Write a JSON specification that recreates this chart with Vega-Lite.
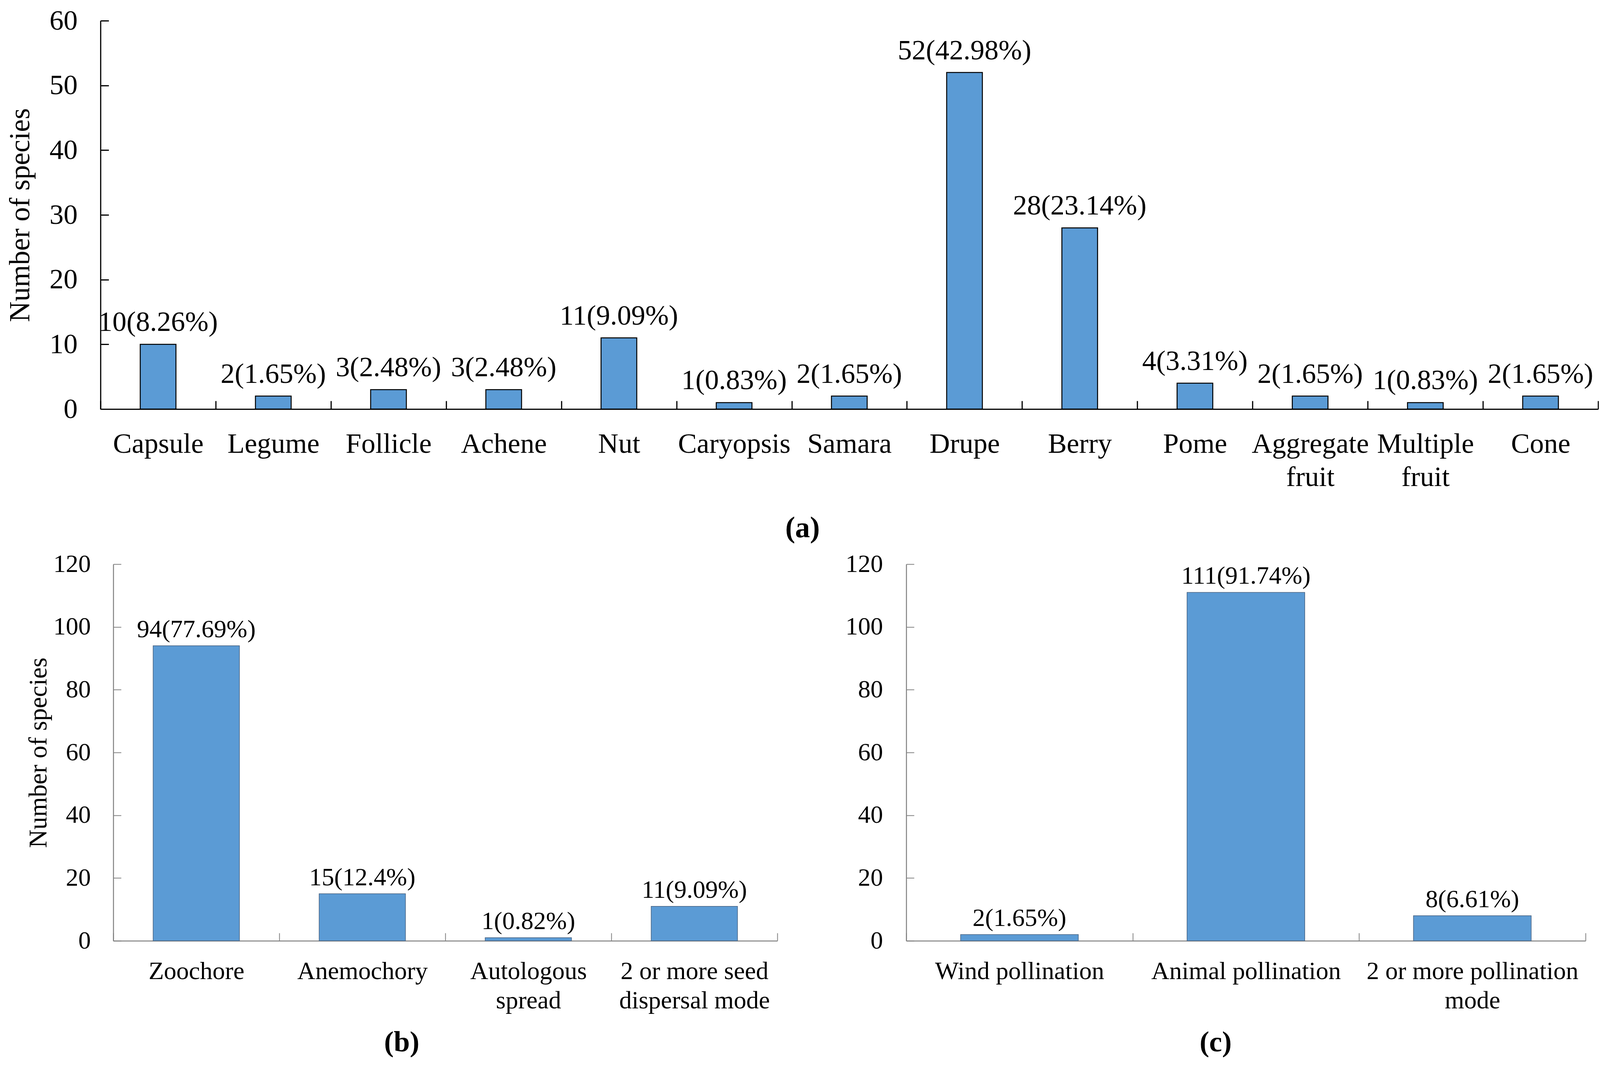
{
  "$schema": "https://vega.github.io/schema/vega-lite/v6.json",
  "background": "white",
  "padding": {"left": 16, "top": 17, "right": 0, "bottom": 0},
  "config": {
    "font": "Liberation Serif",
    "view": {"stroke": null},
    "axis": {"labelColor": "#000", "titleColor": "#000", "titleFontWeight": "normal", "grid": false, "labelOverlap": false, "labelFlush": false, "labelLimit": 0, "labelBound": false},
    "title": {"color": "#000", "fontWeight": "bold", "anchor": "middle", "frame": "bounds", "orient": "bottom", "font": "Liberation Serif"},
    "text": {"color": "#000", "font": "Liberation Serif"}
  },
  "datasets": {
    "fruit": [
      {"type": "Capsule", "n": 10, "label": "10(8.26%)"},
      {"type": "Legume", "n": 2, "label": "2(1.65%)"},
      {"type": "Follicle", "n": 3, "label": "3(2.48%)"},
      {"type": "Achene", "n": 3, "label": "3(2.48%)"},
      {"type": "Nut", "n": 11, "label": "11(9.09%)"},
      {"type": "Caryopsis", "n": 1, "label": "1(0.83%)"},
      {"type": "Samara", "n": 2, "label": "2(1.65%)"},
      {"type": "Drupe", "n": 52, "label": "52(42.98%)"},
      {"type": "Berry", "n": 28, "label": "28(23.14%)"},
      {"type": "Pome", "n": 4, "label": "4(3.31%)"},
      {"type": "Aggregate fruit", "n": 2, "label": "2(1.65%)"},
      {"type": "Multiple fruit", "n": 1, "label": "1(0.83%)"},
      {"type": "Cone", "n": 2, "label": "2(1.65%)"}
    ],
    "dispersal": [
      {"type": "Zoochore", "n": 94, "label": "94(77.69%)"},
      {"type": "Anemochory", "n": 15, "label": "15(12.4%)"},
      {"type": "Autologous spread", "n": 1, "label": "1(0.82%)"},
      {"type": "2 or more seed dispersal mode", "n": 11, "label": "11(9.09%)"}
    ],
    "pollination": [
      {"type": "Wind pollination", "n": 2, "label": "2(1.65%)"},
      {"type": "Animal pollination", "n": 111, "label": "111(91.74%)"},
      {"type": "2 or more pollination mode", "n": 8, "label": "8(6.61%)"}
    ]
  },
  "center": true,
  "spacing": 22,
  "vconcat": [
    {
      "width": 3834,
      "height": 994,
      "data": {"name": "fruit"},
      "title": {"text": "(a)", "fontSize": 76, "offset": 58},
      "encoding": {
        "x": {"field": "type", "type": "nominal", "sort": null,
          "scale": {"paddingInner": 0, "paddingOuter": 0},
          "axis": {"title": null, "labelAngle": 0, "tickBand": "extent", "tickSize": -21, "tickWidth": 3, "tickColor": "#000", "domainColor": "#000", "domainWidth": 3, "labelFontSize": 72, "labelLineHeight": 85, "labelPadding": 75, "labelExpr": "split(datum.label, ' ')"}},
        "y": {"field": "n", "type": "quantitative",
          "scale": {"domain": [0, 60]},
          "axis": {"title": "Number of species", "titleFontSize": 73, "titlePadding": 37, "values": [0, 10, 20, 30, 40, 50, 60], "tickSize": -21, "tickWidth": 3, "tickColor": "#000", "domainColor": "#000", "domainWidth": 3, "labelFontSize": 72, "labelPadding": 80}}
      },
      "layer": [
        {"mark": {"type": "bar", "width": {"band": 0.31}, "fill": "#5B9BD5", "stroke": "#000", "strokeWidth": 2.5}},
        {"mark": {"type": "text", "baseline": "alphabetic", "dy": -34, "fontSize": 72}, "encoding": {"text": {"field": "label"}}}
      ]
    },
    {
      "spacing": 173,
      "hconcat": [
        {
          "width": 1700,
          "height": 964,
          "data": {"name": "dispersal"},
          "title": {"text": "(b)", "fontSize": 74, "offset": 40},
          "encoding": {
            "x": {"field": "type", "type": "nominal", "sort": null,
              "scale": {"paddingInner": 0, "paddingOuter": 0},
              "axis": {"title": null, "labelAngle": 0, "tickBand": "extent", "tickSize": -20, "tickWidth": 2, "tickColor": "#808080", "domainColor": "#808080", "domainWidth": 2.5, "labelFontSize": 64, "labelLineHeight": 75, "labelPadding": 66, "labelExpr": "datum.label == '2 or more seed dispersal mode' ? ['2 or more seed', 'dispersal mode'] : split(datum.label, ' ')"}},
            "y": {"field": "n", "type": "quantitative",
              "scale": {"domain": [0, 120]},
              "axis": {"title": "Number of species", "titleFontSize": 65, "titlePadding": 4, "values": [0, 20, 40, 60, 80, 100, 120], "tickSize": -20, "tickWidth": 2, "tickColor": "#808080", "domainColor": "#808080", "domainWidth": 2.5, "labelFontSize": 64, "labelPadding": 78}}
          },
          "layer": [
            {"mark": {"type": "bar", "width": {"band": 0.52}, "fill": "#5B9BD5", "stroke": "#4a6380", "strokeWidth": 1.5}},
            {"mark": {"type": "text", "baseline": "alphabetic", "dy": -22, "fontSize": 64}, "encoding": {"text": {"field": "label"}}}
          ]
        },
        {
          "width": 1739,
          "height": 964,
          "data": {"name": "pollination"},
          "title": {"text": "(c)", "fontSize": 74, "offset": 40},
          "encoding": {
            "x": {"field": "type", "type": "nominal", "sort": null,
              "scale": {"paddingInner": 0, "paddingOuter": 0},
              "axis": {"title": null, "labelAngle": 0, "tickBand": "extent", "tickSize": -20, "tickWidth": 2, "tickColor": "#808080", "domainColor": "#808080", "domainWidth": 2.5, "labelFontSize": 64, "labelLineHeight": 75, "labelPadding": 66, "labelExpr": "datum.label == '2 or more pollination mode' ? ['2 or more pollination', 'mode'] : datum.label"}},
            "y": {"field": "n", "type": "quantitative",
              "scale": {"domain": [0, 120]},
              "axis": {"title": null, "values": [0, 20, 40, 60, 80, 100, 120], "tickSize": -20, "tickWidth": 2, "tickColor": "#808080", "domainColor": "#808080", "domainWidth": 2.5, "labelFontSize": 64, "labelPadding": 80}}
          },
          "layer": [
            {"mark": {"type": "bar", "width": {"band": 0.52}, "fill": "#5B9BD5", "stroke": "#4a6380", "strokeWidth": 1.5}},
            {"mark": {"type": "text", "baseline": "alphabetic", "dy": -22, "fontSize": 64}, "encoding": {"text": {"field": "label"}}}
          ]
        }
      ]
    }
  ]
}
